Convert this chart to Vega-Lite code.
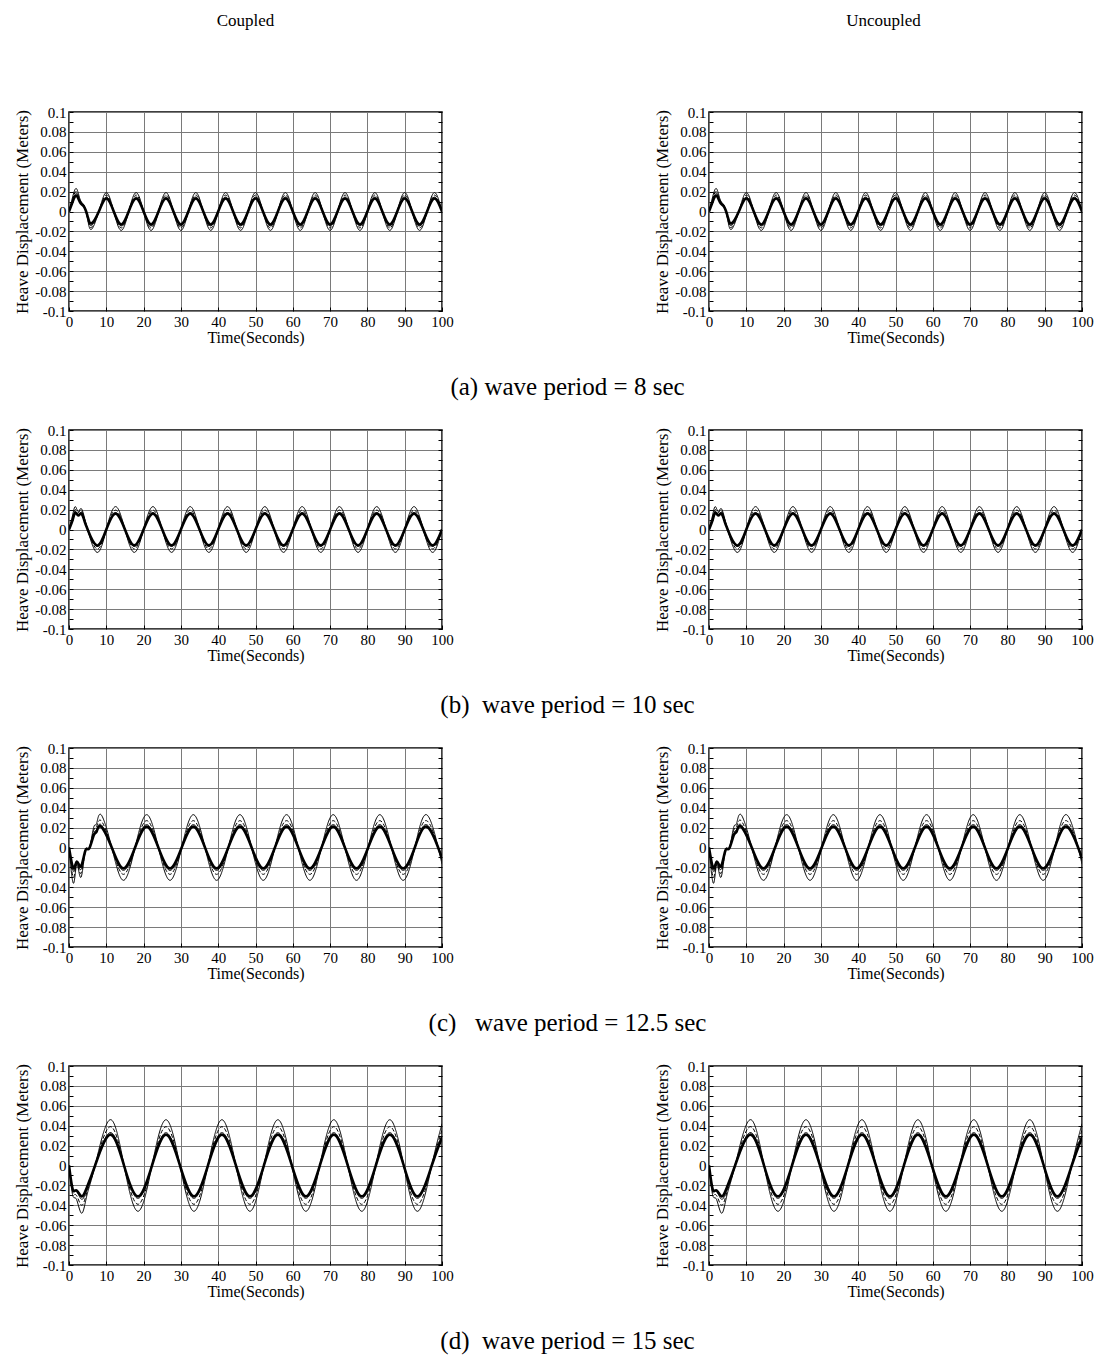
{
"$schema": "https://vega.github.io/schema/vega-lite/v6.json",
"padding": {"left": 13, "top": 11, "right": 5, "bottom": 5},
"background": "white",
"datasets": {
"a": [
{"t":0,"s1":0,"s2":0,"s3":0,"s4":0},
{"t":1,"s1":0.015,"s2":0.013,"s3":0.011,"s4":0.010},
{"t":2,"s1":0.023,"s2":0.020,"s3":0.018,"s4":0.016},
{"t":3,"s1":0.012,"s2":0.011,"s3":0.010,"s4":0.009},
{"t":4,"s1":0.006,"s2":0.006,"s3":0.005,"s4":0.005},
{"t":5,"s1":-0.008,"s2":-0.007,"s3":-0.006,"s4":-0.005},
{"t":6,"s1":-0.018,"s2":-0.016,"s3":-0.014,"s4":-0.012},
{"t":8,"s1":0,"s2":0,"s3":0,"s4":0},
{"t":10,"s1":0.019,"s2":0.0165,"s3":0.0145,"s4":0.013},
{"t":12,"s1":0,"s2":0,"s3":0,"s4":0},
{"t":14,"s1":-0.019,"s2":-0.0165,"s3":-0.0145,"s4":-0.013},
{"t":16,"s1":0,"s2":0,"s3":0,"s4":0},
{"t":18,"s1":0.019,"s2":0.0165,"s3":0.0145,"s4":0.013},
{"t":20,"s1":0,"s2":0,"s3":0,"s4":0},
{"t":22,"s1":-0.019,"s2":-0.0165,"s3":-0.0145,"s4":-0.013},
{"t":24,"s1":0,"s2":0,"s3":0,"s4":0},
{"t":26,"s1":0.019,"s2":0.0165,"s3":0.0145,"s4":0.013},
{"t":28,"s1":0,"s2":0,"s3":0,"s4":0},
{"t":30,"s1":-0.019,"s2":-0.0165,"s3":-0.0145,"s4":-0.013},
{"t":32,"s1":0,"s2":0,"s3":0,"s4":0},
{"t":34,"s1":0.019,"s2":0.0165,"s3":0.0145,"s4":0.013},
{"t":36,"s1":0,"s2":0,"s3":0,"s4":0},
{"t":38,"s1":-0.019,"s2":-0.0165,"s3":-0.0145,"s4":-0.013},
{"t":40,"s1":0,"s2":0,"s3":0,"s4":0},
{"t":42,"s1":0.019,"s2":0.0165,"s3":0.0145,"s4":0.013},
{"t":44,"s1":0,"s2":0,"s3":0,"s4":0},
{"t":46,"s1":-0.019,"s2":-0.0165,"s3":-0.0145,"s4":-0.013},
{"t":48,"s1":0,"s2":0,"s3":0,"s4":0},
{"t":50,"s1":0.019,"s2":0.0165,"s3":0.0145,"s4":0.013},
{"t":52,"s1":0,"s2":0,"s3":0,"s4":0},
{"t":54,"s1":-0.019,"s2":-0.0165,"s3":-0.0145,"s4":-0.013},
{"t":56,"s1":0,"s2":0,"s3":0,"s4":0},
{"t":58,"s1":0.019,"s2":0.0165,"s3":0.0145,"s4":0.013},
{"t":60,"s1":0,"s2":0,"s3":0,"s4":0},
{"t":62,"s1":-0.019,"s2":-0.0165,"s3":-0.0145,"s4":-0.013},
{"t":64,"s1":0,"s2":0,"s3":0,"s4":0},
{"t":66,"s1":0.019,"s2":0.0165,"s3":0.0145,"s4":0.013},
{"t":68,"s1":0,"s2":0,"s3":0,"s4":0},
{"t":70,"s1":-0.019,"s2":-0.0165,"s3":-0.0145,"s4":-0.013},
{"t":72,"s1":0,"s2":0,"s3":0,"s4":0},
{"t":74,"s1":0.019,"s2":0.0165,"s3":0.0145,"s4":0.013},
{"t":76,"s1":0,"s2":0,"s3":0,"s4":0},
{"t":78,"s1":-0.019,"s2":-0.0165,"s3":-0.0145,"s4":-0.013},
{"t":80,"s1":0,"s2":0,"s3":0,"s4":0},
{"t":82,"s1":0.019,"s2":0.0165,"s3":0.0145,"s4":0.013},
{"t":84,"s1":0,"s2":0,"s3":0,"s4":0},
{"t":86,"s1":-0.019,"s2":-0.0165,"s3":-0.0145,"s4":-0.013},
{"t":88,"s1":0,"s2":0,"s3":0,"s4":0},
{"t":90,"s1":0.019,"s2":0.0165,"s3":0.0145,"s4":0.013},
{"t":92,"s1":0,"s2":0,"s3":0,"s4":0},
{"t":94,"s1":-0.019,"s2":-0.0165,"s3":-0.0145,"s4":-0.013},
{"t":96,"s1":0,"s2":0,"s3":0,"s4":0},
{"t":98,"s1":0.019,"s2":0.0165,"s3":0.0145,"s4":0.013},
{"t":100,"s1":0,"s2":0,"s3":0,"s4":0}
],
"b": [
{"t":0,"s1":0,"s2":0,"s3":0,"s4":0},
{"t":1,"s1":0.015,"s2":0.013,"s3":0.011,"s4":0.010},
{"t":1.7,"s1":0.023,"s2":0.020,"s3":0.018,"s4":0.017},
{"t":2.5,"s1":0.018,"s2":0.017,"s3":0.015,"s4":0.014},
{"t":3.3,"s1":0.021,"s2":0.019,"s3":0.017,"s4":0.016},
{"t":4.2,"s1":0.011,"s2":0.010,"s3":0.009,"s4":0.008},
{"t":5,"s1":0,"s2":0,"s3":0,"s4":0},
{"t":7.5,"s1":-0.023,"s2":-0.0195,"s3":-0.017,"s4":-0.016},
{"t":10,"s1":0,"s2":0,"s3":0,"s4":0},
{"t":12.5,"s1":0.023,"s2":0.0195,"s3":0.017,"s4":0.016},
{"t":15,"s1":0,"s2":0,"s3":0,"s4":0},
{"t":17.5,"s1":-0.023,"s2":-0.0195,"s3":-0.017,"s4":-0.016},
{"t":20,"s1":0,"s2":0,"s3":0,"s4":0},
{"t":22.5,"s1":0.023,"s2":0.0195,"s3":0.017,"s4":0.016},
{"t":25,"s1":0,"s2":0,"s3":0,"s4":0},
{"t":27.5,"s1":-0.023,"s2":-0.0195,"s3":-0.017,"s4":-0.016},
{"t":30,"s1":0,"s2":0,"s3":0,"s4":0},
{"t":32.5,"s1":0.023,"s2":0.0195,"s3":0.017,"s4":0.016},
{"t":35,"s1":0,"s2":0,"s3":0,"s4":0},
{"t":37.5,"s1":-0.023,"s2":-0.0195,"s3":-0.017,"s4":-0.016},
{"t":40,"s1":0,"s2":0,"s3":0,"s4":0},
{"t":42.5,"s1":0.023,"s2":0.0195,"s3":0.017,"s4":0.016},
{"t":45,"s1":0,"s2":0,"s3":0,"s4":0},
{"t":47.5,"s1":-0.023,"s2":-0.0195,"s3":-0.017,"s4":-0.016},
{"t":50,"s1":0,"s2":0,"s3":0,"s4":0},
{"t":52.5,"s1":0.023,"s2":0.0195,"s3":0.017,"s4":0.016},
{"t":55,"s1":0,"s2":0,"s3":0,"s4":0},
{"t":57.5,"s1":-0.023,"s2":-0.0195,"s3":-0.017,"s4":-0.016},
{"t":60,"s1":0,"s2":0,"s3":0,"s4":0},
{"t":62.5,"s1":0.023,"s2":0.0195,"s3":0.017,"s4":0.016},
{"t":65,"s1":0,"s2":0,"s3":0,"s4":0},
{"t":67.5,"s1":-0.023,"s2":-0.0195,"s3":-0.017,"s4":-0.016},
{"t":70,"s1":0,"s2":0,"s3":0,"s4":0},
{"t":72.5,"s1":0.023,"s2":0.0195,"s3":0.017,"s4":0.016},
{"t":75,"s1":0,"s2":0,"s3":0,"s4":0},
{"t":77.5,"s1":-0.023,"s2":-0.0195,"s3":-0.017,"s4":-0.016},
{"t":80,"s1":0,"s2":0,"s3":0,"s4":0},
{"t":82.5,"s1":0.023,"s2":0.0195,"s3":0.017,"s4":0.016},
{"t":85,"s1":0,"s2":0,"s3":0,"s4":0},
{"t":87.5,"s1":-0.023,"s2":-0.0195,"s3":-0.017,"s4":-0.016},
{"t":90,"s1":0,"s2":0,"s3":0,"s4":0},
{"t":92.5,"s1":0.023,"s2":0.0195,"s3":0.017,"s4":0.016},
{"t":95,"s1":0,"s2":0,"s3":0,"s4":0},
{"t":97.5,"s1":-0.023,"s2":-0.0195,"s3":-0.017,"s4":-0.016},
{"t":100,"s1":0,"s2":0,"s3":0,"s4":0}
],
"c": [
{"t":0,"s1":0,"s2":0,"s3":0,"s4":0},
{"t":1.2,"s1":-0.036,"s2":-0.030,"s3":-0.024,"s4":-0.021},
{"t":2.1,"s1":-0.017,"s2":-0.016,"s3":-0.015,"s4":-0.014},
{"t":3.2,"s1":-0.030,"s2":-0.026,"s3":-0.022,"s4":-0.019},
{"t":4.4,"s1":-0.003,"s2":-0.003,"s3":-0.003,"s4":-0.003},
{"t":5.4,"s1":-0.001,"s2":-0.001,"s3":-0.001,"s4":-0.001},
{"t":6.6,"s1":0.020,"s2":0.017,"s3":0.014,"s4":0.012},
{"t":7.4,"s1":0.024,"s2":0.021,"s3":0.018,"s4":0.016},
{"t":8.6,"s1":0.033,"s2":0.027,"s3":0.023,"s4":0.021},
{"t":11.46,"s1":0,"s2":0,"s3":0,"s4":0},
{"t":14.58,"s1":-0.033,"s2":-0.027,"s3":-0.023,"s4":-0.021},
{"t":17.71,"s1":0,"s2":0,"s3":0,"s4":0},
{"t":20.83,"s1":0.033,"s2":0.027,"s3":0.023,"s4":0.021},
{"t":23.96,"s1":0,"s2":0,"s3":0,"s4":0},
{"t":27.08,"s1":-0.033,"s2":-0.027,"s3":-0.023,"s4":-0.021},
{"t":30.21,"s1":0,"s2":0,"s3":0,"s4":0},
{"t":33.33,"s1":0.033,"s2":0.027,"s3":0.023,"s4":0.021},
{"t":36.46,"s1":0,"s2":0,"s3":0,"s4":0},
{"t":39.58,"s1":-0.033,"s2":-0.027,"s3":-0.023,"s4":-0.021},
{"t":42.71,"s1":0,"s2":0,"s3":0,"s4":0},
{"t":45.83,"s1":0.033,"s2":0.027,"s3":0.023,"s4":0.021},
{"t":48.96,"s1":0,"s2":0,"s3":0,"s4":0},
{"t":52.08,"s1":-0.033,"s2":-0.027,"s3":-0.023,"s4":-0.021},
{"t":55.21,"s1":0,"s2":0,"s3":0,"s4":0},
{"t":58.33,"s1":0.033,"s2":0.027,"s3":0.023,"s4":0.021},
{"t":61.46,"s1":0,"s2":0,"s3":0,"s4":0},
{"t":64.58,"s1":-0.033,"s2":-0.027,"s3":-0.023,"s4":-0.021},
{"t":67.71,"s1":0,"s2":0,"s3":0,"s4":0},
{"t":70.83,"s1":0.033,"s2":0.027,"s3":0.023,"s4":0.021},
{"t":73.96,"s1":0,"s2":0,"s3":0,"s4":0},
{"t":77.08,"s1":-0.033,"s2":-0.027,"s3":-0.023,"s4":-0.021},
{"t":80.21,"s1":0,"s2":0,"s3":0,"s4":0},
{"t":83.33,"s1":0.033,"s2":0.027,"s3":0.023,"s4":0.021},
{"t":86.46,"s1":0,"s2":0,"s3":0,"s4":0},
{"t":89.58,"s1":-0.033,"s2":-0.027,"s3":-0.023,"s4":-0.021},
{"t":92.71,"s1":0,"s2":0,"s3":0,"s4":0},
{"t":95.83,"s1":0.033,"s2":0.027,"s3":0.023,"s4":0.021},
{"t":98.96,"s1":0,"s2":0,"s3":0,"s4":0},
{"t":100,"s1":-0.0165,"s2":-0.0135,"s3":-0.0115,"s4":-0.0105}
],
"d": [
{"t":0,"s1":0,"s2":0,"s3":0,"s4":0},
{"t":1,"s1":-0.030,"s2":-0.027,"s3":-0.025,"s4":-0.024},
{"t":2,"s1":-0.034,"s2":-0.030,"s3":-0.026,"s4":-0.025},
{"t":3.4,"s1":-0.048,"s2":-0.040,"s3":-0.034,"s4":-0.031},
{"t":4.8,"s1":-0.030,"s2":-0.027,"s3":-0.024,"s4":-0.022},
{"t":7,"s1":0,"s2":0,"s3":0,"s4":0},
{"t":11,"s1":0.046,"s2":0.039,"s3":0.033,"s4":0.031},
{"t":14.75,"s1":0,"s2":0,"s3":0,"s4":0},
{"t":18.5,"s1":-0.046,"s2":-0.039,"s3":-0.033,"s4":-0.031},
{"t":22.25,"s1":0,"s2":0,"s3":0,"s4":0},
{"t":26,"s1":0.046,"s2":0.039,"s3":0.033,"s4":0.031},
{"t":29.75,"s1":0,"s2":0,"s3":0,"s4":0},
{"t":33.5,"s1":-0.046,"s2":-0.039,"s3":-0.033,"s4":-0.031},
{"t":37.25,"s1":0,"s2":0,"s3":0,"s4":0},
{"t":41,"s1":0.046,"s2":0.039,"s3":0.033,"s4":0.031},
{"t":44.75,"s1":0,"s2":0,"s3":0,"s4":0},
{"t":48.5,"s1":-0.046,"s2":-0.039,"s3":-0.033,"s4":-0.031},
{"t":52.25,"s1":0,"s2":0,"s3":0,"s4":0},
{"t":56,"s1":0.046,"s2":0.039,"s3":0.033,"s4":0.031},
{"t":59.75,"s1":0,"s2":0,"s3":0,"s4":0},
{"t":63.5,"s1":-0.046,"s2":-0.039,"s3":-0.033,"s4":-0.031},
{"t":67.25,"s1":0,"s2":0,"s3":0,"s4":0},
{"t":71,"s1":0.046,"s2":0.039,"s3":0.033,"s4":0.031},
{"t":74.75,"s1":0,"s2":0,"s3":0,"s4":0},
{"t":78.5,"s1":-0.046,"s2":-0.039,"s3":-0.033,"s4":-0.031},
{"t":82.25,"s1":0,"s2":0,"s3":0,"s4":0},
{"t":86,"s1":0.046,"s2":0.039,"s3":0.033,"s4":0.031},
{"t":89.75,"s1":0,"s2":0,"s3":0,"s4":0},
{"t":93.5,"s1":-0.046,"s2":-0.039,"s3":-0.033,"s4":-0.031},
{"t":97.25,"s1":0,"s2":0,"s3":0,"s4":0},
{"t":100,"s1":0.042,"s2":0.0356,"s3":0.030,"s4":0.0283}
]
},
"vconcat": [
{"hconcat": [
{"width":373,"height":199,"title":{"text":"Coupled","offset":75,"dx":-10},"data":{"name":"a"},"transform":[{"fold":["s1","s2","s3","s4"],"as":["series","value"]}],
"layer":[
{"transform":[{"filter":"datum.series != 's4'"}],"mark":{"type":"line","interpolate":"natural","clip":true,"strokeWidth":1,"color":"black"},
"encoding":{"x":{"field":"t","type":"quantitative","scale":{"domain":[0,100],"nice":false},"axis":{"title":"Time(Seconds)","values":[0,10,20,30,40,50,60,70,80,90,100]}},
"y":{"field":"value","type":"quantitative","scale":{"domain":[-0.1,0.1],"nice":false},"axis":{"title":"Heave Displacement (Meters)","values":[-0.1,-0.09,-0.08,-0.07,-0.06,-0.05,-0.04,-0.03,-0.02,-0.01,0,0.01,0.02,0.03,0.04,0.05,0.06,0.07,0.08,0.09,0.1],"labelExpr":"round(datum.value*100) % 2 == 0 ? '' + datum.value : ''","gridOpacity":{"condition":{"test":"round(datum.value*100) % 2 != 0","value":0},"value":1}}},
"strokeDash":{"field":"series","type":"nominal","scale":{"domain":["s1","s2","s3"],"range":[[1,0],[4,2],[1,0]]},"legend":null}}},
{"transform":[{"filter":"datum.series == 's4'"}],"mark":{"type":"line","interpolate":"natural","clip":true,"strokeWidth":2.6,"color":"black"},
"encoding":{"x":{"field":"t","type":"quantitative","axis":null},"y":{"field":"value","type":"quantitative","axis":null}}},
{"transform":[{"filter":"datum.series == 's4'"}],"mark":{"type":"line","strokeOpacity":0},
"encoding":{"x":{"field":"t","type":"quantitative","axis":null},"y":{"field":"value","type":"quantitative","axis":{"orient":"right","title":null,"labels":false,"grid":false,"values":[-0.1,-0.09,-0.08,-0.07,-0.06,-0.05,-0.04,-0.03,-0.02,-0.01,0,0.01,0.02,0.03,0.04,0.05,0.06,0.07,0.08,0.09,0.1]}}}}
],"resolve":{"axis":{"y":"independent","x":"independent"}}},
{"width":373,"height":199,"title":{"text":"Uncoupled","offset":75,"dx":-12},"data":{"name":"a"},"transform":[{"fold":["s1","s2","s3","s4"],"as":["series","value"]}],
"layer":[
{"transform":[{"filter":"datum.series != 's4'"}],"mark":{"type":"line","interpolate":"natural","clip":true,"strokeWidth":1,"color":"black"},
"encoding":{"x":{"field":"t","type":"quantitative","scale":{"domain":[0,100],"nice":false},"axis":{"title":"Time(Seconds)","values":[0,10,20,30,40,50,60,70,80,90,100]}},
"y":{"field":"value","type":"quantitative","scale":{"domain":[-0.1,0.1],"nice":false},"axis":{"title":"Heave Displacement (Meters)","values":[-0.1,-0.09,-0.08,-0.07,-0.06,-0.05,-0.04,-0.03,-0.02,-0.01,0,0.01,0.02,0.03,0.04,0.05,0.06,0.07,0.08,0.09,0.1],"labelExpr":"round(datum.value*100) % 2 == 0 ? '' + datum.value : ''","gridOpacity":{"condition":{"test":"round(datum.value*100) % 2 != 0","value":0},"value":1}}},
"strokeDash":{"field":"series","type":"nominal","scale":{"domain":["s1","s2","s3"],"range":[[1,0],[4,2],[1,0]]},"legend":null}}},
{"transform":[{"filter":"datum.series == 's4'"}],"mark":{"type":"line","interpolate":"natural","clip":true,"strokeWidth":2.6,"color":"black"},
"encoding":{"x":{"field":"t","type":"quantitative","axis":null},"y":{"field":"value","type":"quantitative","axis":null}}},
{"transform":[{"filter":"datum.series == 's4'"}],"mark":{"type":"line","strokeOpacity":0},
"encoding":{"x":{"field":"t","type":"quantitative","axis":null},"y":{"field":"value","type":"quantitative","axis":{"orient":"right","title":null,"labels":false,"grid":false,"values":[-0.1,-0.09,-0.08,-0.07,-0.06,-0.05,-0.04,-0.03,-0.02,-0.01,0,0.01,0.02,0.03,0.04,0.05,0.06,0.07,0.08,0.09,0.1]}}}}
],"resolve":{"axis":{"y":"independent","x":"independent"}}}
],"title":{"text":"(a) wave period = 8 sec","orient":"bottom","anchor":"middle","offset":29,"dx":14,"fontSize":25}},
{"hconcat": [
{"width":373,"height":199,"data":{"name":"b"},"transform":[{"fold":["s1","s2","s3","s4"],"as":["series","value"]}],
"layer":[
{"transform":[{"filter":"datum.series != 's4'"}],"mark":{"type":"line","interpolate":"natural","clip":true,"strokeWidth":1,"color":"black"},
"encoding":{"x":{"field":"t","type":"quantitative","scale":{"domain":[0,100],"nice":false},"axis":{"title":"Time(Seconds)","values":[0,10,20,30,40,50,60,70,80,90,100]}},
"y":{"field":"value","type":"quantitative","scale":{"domain":[-0.1,0.1],"nice":false},"axis":{"title":"Heave Displacement (Meters)","values":[-0.1,-0.09,-0.08,-0.07,-0.06,-0.05,-0.04,-0.03,-0.02,-0.01,0,0.01,0.02,0.03,0.04,0.05,0.06,0.07,0.08,0.09,0.1],"labelExpr":"round(datum.value*100) % 2 == 0 ? '' + datum.value : ''","gridOpacity":{"condition":{"test":"round(datum.value*100) % 2 != 0","value":0},"value":1}}},
"strokeDash":{"field":"series","type":"nominal","scale":{"domain":["s1","s2","s3"],"range":[[1,0],[4,2],[1,0]]},"legend":null}}},
{"transform":[{"filter":"datum.series == 's4'"}],"mark":{"type":"line","interpolate":"natural","clip":true,"strokeWidth":2.6,"color":"black"},
"encoding":{"x":{"field":"t","type":"quantitative","axis":null},"y":{"field":"value","type":"quantitative","axis":null}}},
{"transform":[{"filter":"datum.series == 's4'"}],"mark":{"type":"line","strokeOpacity":0},
"encoding":{"x":{"field":"t","type":"quantitative","axis":null},"y":{"field":"value","type":"quantitative","axis":{"orient":"right","title":null,"labels":false,"grid":false,"values":[-0.1,-0.09,-0.08,-0.07,-0.06,-0.05,-0.04,-0.03,-0.02,-0.01,0,0.01,0.02,0.03,0.04,0.05,0.06,0.07,0.08,0.09,0.1]}}}}
],"resolve":{"axis":{"y":"independent","x":"independent"}}},
{"width":373,"height":199,"data":{"name":"b"},"transform":[{"fold":["s1","s2","s3","s4"],"as":["series","value"]}],
"layer":[
{"transform":[{"filter":"datum.series != 's4'"}],"mark":{"type":"line","interpolate":"natural","clip":true,"strokeWidth":1,"color":"black"},
"encoding":{"x":{"field":"t","type":"quantitative","scale":{"domain":[0,100],"nice":false},"axis":{"title":"Time(Seconds)","values":[0,10,20,30,40,50,60,70,80,90,100]}},
"y":{"field":"value","type":"quantitative","scale":{"domain":[-0.1,0.1],"nice":false},"axis":{"title":"Heave Displacement (Meters)","values":[-0.1,-0.09,-0.08,-0.07,-0.06,-0.05,-0.04,-0.03,-0.02,-0.01,0,0.01,0.02,0.03,0.04,0.05,0.06,0.07,0.08,0.09,0.1],"labelExpr":"round(datum.value*100) % 2 == 0 ? '' + datum.value : ''","gridOpacity":{"condition":{"test":"round(datum.value*100) % 2 != 0","value":0},"value":1}}},
"strokeDash":{"field":"series","type":"nominal","scale":{"domain":["s1","s2","s3"],"range":[[1,0],[4,2],[1,0]]},"legend":null}}},
{"transform":[{"filter":"datum.series == 's4'"}],"mark":{"type":"line","interpolate":"natural","clip":true,"strokeWidth":2.6,"color":"black"},
"encoding":{"x":{"field":"t","type":"quantitative","axis":null},"y":{"field":"value","type":"quantitative","axis":null}}},
{"transform":[{"filter":"datum.series == 's4'"}],"mark":{"type":"line","strokeOpacity":0},
"encoding":{"x":{"field":"t","type":"quantitative","axis":null},"y":{"field":"value","type":"quantitative","axis":{"orient":"right","title":null,"labels":false,"grid":false,"values":[-0.1,-0.09,-0.08,-0.07,-0.06,-0.05,-0.04,-0.03,-0.02,-0.01,0,0.01,0.02,0.03,0.04,0.05,0.06,0.07,0.08,0.09,0.1]}}}}
],"resolve":{"axis":{"y":"independent","x":"independent"}}}
],"title":{"text":"(b) \u00a0wave period = 10 sec","orient":"bottom","anchor":"middle","offset":29,"dx":14,"fontSize":25}},
{"hconcat": [
{"width":373,"height":199,"data":{"name":"c"},"transform":[{"fold":["s1","s2","s3","s4"],"as":["series","value"]}],
"layer":[
{"transform":[{"filter":"datum.series != 's4'"}],"mark":{"type":"line","interpolate":"natural","clip":true,"strokeWidth":1,"color":"black"},
"encoding":{"x":{"field":"t","type":"quantitative","scale":{"domain":[0,100],"nice":false},"axis":{"title":"Time(Seconds)","values":[0,10,20,30,40,50,60,70,80,90,100]}},
"y":{"field":"value","type":"quantitative","scale":{"domain":[-0.1,0.1],"nice":false},"axis":{"title":"Heave Displacement (Meters)","values":[-0.1,-0.09,-0.08,-0.07,-0.06,-0.05,-0.04,-0.03,-0.02,-0.01,0,0.01,0.02,0.03,0.04,0.05,0.06,0.07,0.08,0.09,0.1],"labelExpr":"round(datum.value*100) % 2 == 0 ? '' + datum.value : ''","gridOpacity":{"condition":{"test":"round(datum.value*100) % 2 != 0","value":0},"value":1}}},
"strokeDash":{"field":"series","type":"nominal","scale":{"domain":["s1","s2","s3"],"range":[[1,0],[4,2],[1,0]]},"legend":null}}},
{"transform":[{"filter":"datum.series == 's4'"}],"mark":{"type":"line","interpolate":"natural","clip":true,"strokeWidth":2.6,"color":"black"},
"encoding":{"x":{"field":"t","type":"quantitative","axis":null},"y":{"field":"value","type":"quantitative","axis":null}}},
{"transform":[{"filter":"datum.series == 's4'"}],"mark":{"type":"line","strokeOpacity":0},
"encoding":{"x":{"field":"t","type":"quantitative","axis":null},"y":{"field":"value","type":"quantitative","axis":{"orient":"right","title":null,"labels":false,"grid":false,"values":[-0.1,-0.09,-0.08,-0.07,-0.06,-0.05,-0.04,-0.03,-0.02,-0.01,0,0.01,0.02,0.03,0.04,0.05,0.06,0.07,0.08,0.09,0.1]}}}}
],"resolve":{"axis":{"y":"independent","x":"independent"}}},
{"width":373,"height":199,"data":{"name":"c"},"transform":[{"fold":["s1","s2","s3","s4"],"as":["series","value"]}],
"layer":[
{"transform":[{"filter":"datum.series != 's4'"}],"mark":{"type":"line","interpolate":"natural","clip":true,"strokeWidth":1,"color":"black"},
"encoding":{"x":{"field":"t","type":"quantitative","scale":{"domain":[0,100],"nice":false},"axis":{"title":"Time(Seconds)","values":[0,10,20,30,40,50,60,70,80,90,100]}},
"y":{"field":"value","type":"quantitative","scale":{"domain":[-0.1,0.1],"nice":false},"axis":{"title":"Heave Displacement (Meters)","values":[-0.1,-0.09,-0.08,-0.07,-0.06,-0.05,-0.04,-0.03,-0.02,-0.01,0,0.01,0.02,0.03,0.04,0.05,0.06,0.07,0.08,0.09,0.1],"labelExpr":"round(datum.value*100) % 2 == 0 ? '' + datum.value : ''","gridOpacity":{"condition":{"test":"round(datum.value*100) % 2 != 0","value":0},"value":1}}},
"strokeDash":{"field":"series","type":"nominal","scale":{"domain":["s1","s2","s3"],"range":[[1,0],[4,2],[1,0]]},"legend":null}}},
{"transform":[{"filter":"datum.series == 's4'"}],"mark":{"type":"line","interpolate":"natural","clip":true,"strokeWidth":2.6,"color":"black"},
"encoding":{"x":{"field":"t","type":"quantitative","axis":null},"y":{"field":"value","type":"quantitative","axis":null}}},
{"transform":[{"filter":"datum.series == 's4'"}],"mark":{"type":"line","strokeOpacity":0},
"encoding":{"x":{"field":"t","type":"quantitative","axis":null},"y":{"field":"value","type":"quantitative","axis":{"orient":"right","title":null,"labels":false,"grid":false,"values":[-0.1,-0.09,-0.08,-0.07,-0.06,-0.05,-0.04,-0.03,-0.02,-0.01,0,0.01,0.02,0.03,0.04,0.05,0.06,0.07,0.08,0.09,0.1]}}}}
],"resolve":{"axis":{"y":"independent","x":"independent"}}}
],"title":{"text":"(c) \u00a0 wave period = 12.5 sec","orient":"bottom","anchor":"middle","offset":29,"dx":14,"fontSize":25}},
{"hconcat": [
{"width":373,"height":199,"data":{"name":"d"},"transform":[{"fold":["s1","s2","s3","s4"],"as":["series","value"]}],
"layer":[
{"transform":[{"filter":"datum.series != 's4'"}],"mark":{"type":"line","interpolate":"natural","clip":true,"strokeWidth":1,"color":"black"},
"encoding":{"x":{"field":"t","type":"quantitative","scale":{"domain":[0,100],"nice":false},"axis":{"title":"Time(Seconds)","values":[0,10,20,30,40,50,60,70,80,90,100]}},
"y":{"field":"value","type":"quantitative","scale":{"domain":[-0.1,0.1],"nice":false},"axis":{"title":"Heave Displacement (Meters)","values":[-0.1,-0.09,-0.08,-0.07,-0.06,-0.05,-0.04,-0.03,-0.02,-0.01,0,0.01,0.02,0.03,0.04,0.05,0.06,0.07,0.08,0.09,0.1],"labelExpr":"round(datum.value*100) % 2 == 0 ? '' + datum.value : ''","gridOpacity":{"condition":{"test":"round(datum.value*100) % 2 != 0","value":0},"value":1}}},
"strokeDash":{"field":"series","type":"nominal","scale":{"domain":["s1","s2","s3"],"range":[[1,0],[4,2],[1,0]]},"legend":null}}},
{"transform":[{"filter":"datum.series == 's4'"}],"mark":{"type":"line","interpolate":"natural","clip":true,"strokeWidth":2.6,"color":"black"},
"encoding":{"x":{"field":"t","type":"quantitative","axis":null},"y":{"field":"value","type":"quantitative","axis":null}}},
{"transform":[{"filter":"datum.series == 's4'"}],"mark":{"type":"line","strokeOpacity":0},
"encoding":{"x":{"field":"t","type":"quantitative","axis":null},"y":{"field":"value","type":"quantitative","axis":{"orient":"right","title":null,"labels":false,"grid":false,"values":[-0.1,-0.09,-0.08,-0.07,-0.06,-0.05,-0.04,-0.03,-0.02,-0.01,0,0.01,0.02,0.03,0.04,0.05,0.06,0.07,0.08,0.09,0.1]}}}}
],"resolve":{"axis":{"y":"independent","x":"independent"}}},
{"width":373,"height":199,"data":{"name":"d"},"transform":[{"fold":["s1","s2","s3","s4"],"as":["series","value"]}],
"layer":[
{"transform":[{"filter":"datum.series != 's4'"}],"mark":{"type":"line","interpolate":"natural","clip":true,"strokeWidth":1,"color":"black"},
"encoding":{"x":{"field":"t","type":"quantitative","scale":{"domain":[0,100],"nice":false},"axis":{"title":"Time(Seconds)","values":[0,10,20,30,40,50,60,70,80,90,100]}},
"y":{"field":"value","type":"quantitative","scale":{"domain":[-0.1,0.1],"nice":false},"axis":{"title":"Heave Displacement (Meters)","values":[-0.1,-0.09,-0.08,-0.07,-0.06,-0.05,-0.04,-0.03,-0.02,-0.01,0,0.01,0.02,0.03,0.04,0.05,0.06,0.07,0.08,0.09,0.1],"labelExpr":"round(datum.value*100) % 2 == 0 ? '' + datum.value : ''","gridOpacity":{"condition":{"test":"round(datum.value*100) % 2 != 0","value":0},"value":1}}},
"strokeDash":{"field":"series","type":"nominal","scale":{"domain":["s1","s2","s3"],"range":[[1,0],[4,2],[1,0]]},"legend":null}}},
{"transform":[{"filter":"datum.series == 's4'"}],"mark":{"type":"line","interpolate":"natural","clip":true,"strokeWidth":2.6,"color":"black"},
"encoding":{"x":{"field":"t","type":"quantitative","axis":null},"y":{"field":"value","type":"quantitative","axis":null}}},
{"transform":[{"filter":"datum.series == 's4'"}],"mark":{"type":"line","strokeOpacity":0},
"encoding":{"x":{"field":"t","type":"quantitative","axis":null},"y":{"field":"value","type":"quantitative","axis":{"orient":"right","title":null,"labels":false,"grid":false,"values":[-0.1,-0.09,-0.08,-0.07,-0.06,-0.05,-0.04,-0.03,-0.02,-0.01,0,0.01,0.02,0.03,0.04,0.05,0.06,0.07,0.08,0.09,0.1]}}}}
],"resolve":{"axis":{"y":"independent","x":"independent"}}}
],"title":{"text":"(d) \u00a0wave period = 15 sec","orient":"bottom","anchor":"middle","offset":29,"dx":14,"fontSize":25}}
],
"spacing": 22,
"config": {
"font": "Liberation Serif",
"view": {"stroke": "black", "strokeWidth": 1.5},
"concat": {"spacing": 199},
"title": {"font": "Liberation Serif", "fontSize": 17, "fontWeight": "normal", "color": "black"},
"axis": {"labelFont": "Liberation Serif", "labelFontSize": 15, "labelColor": "black", "titleFont": "Liberation Serif", "titleFontSize": 16, "titleFontWeight": "normal", "titleColor": "black", "domain": false, "gridColor": "#7a7a7a", "gridWidth": 1, "tickColor": "black", "tickSize": -4, "labelPadding": 7, "labelFlush": false, "labelOverlap": false},
"axisX": {"titlePadding": 0},
"axisY": {"titlePadding": 3, "titleFontSize": 17}
}
}
